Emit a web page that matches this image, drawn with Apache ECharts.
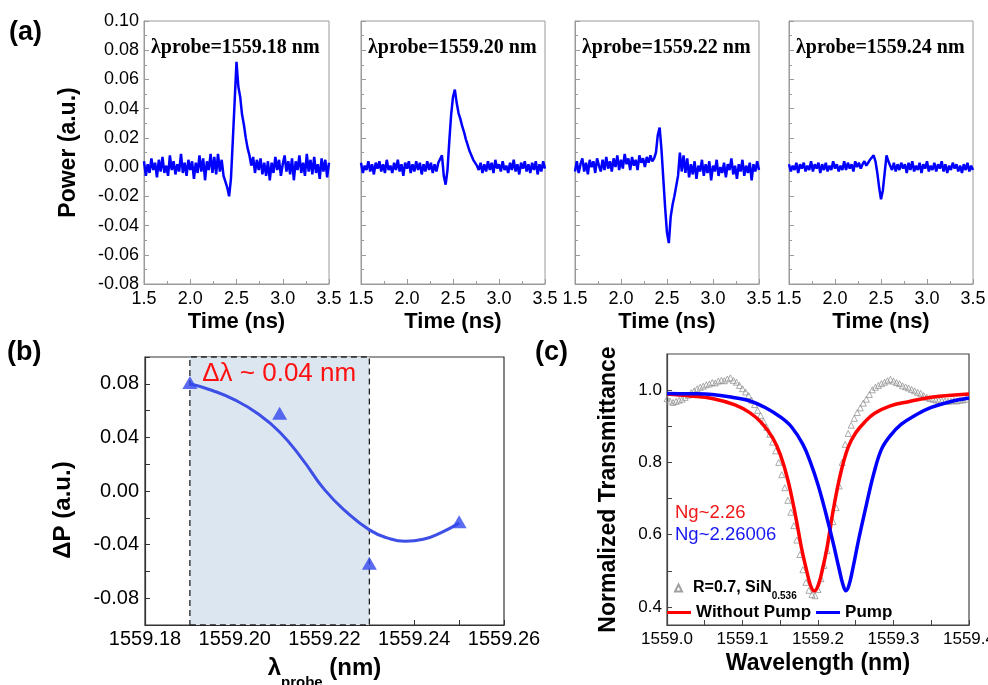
<!DOCTYPE html>
<html><head><meta charset="utf-8">
<script src="https://cdn.jsdelivr.net/npm/echarts@6/dist/echarts.min.js"></script>
<style>html,body{margin:0;padding:0;background:#fff}#c{width:988px;height:685px}</style>
</head><body><div id="c"></div>
<script>
// ---------- Panel (a) data ----------
const times = [
1.50,1.52,1.54,1.56,1.58,1.60,1.62,1.64,1.66,1.68,
1.70,1.72,1.74,1.76,1.78,1.80,1.82,1.84,1.86,1.88,
1.90,1.92,1.94,1.96,1.98,2.00,2.02,2.04,2.06,2.08,
2.10,2.12,2.14,2.16,2.18,2.20,2.22,2.24,2.26,2.28,
2.30,2.32,2.34,2.36,2.38,2.40,2.42,2.44,2.46,2.48,
2.50,2.52,2.54,2.56,2.58,2.60,2.62,2.64,2.66,2.68,
2.70,2.72,2.74,2.76,2.78,2.80,2.82,2.84,2.86,2.88,
2.90,2.92,2.94,2.96,2.98,3.00,3.02,3.04,3.06,3.08,
3.10,3.12,3.14,3.16,3.18,3.20,3.22,3.24,3.26,3.28,
3.30,3.32,3.34,3.36,3.38,3.40,3.42,3.44,3.46,3.48,
3.50];
const power1918 = [
0.004,-0.006,0.002,-0.004,0.006,-0.002,0.003,-0.007,0.005,-0.003,
0.007,-0.004,0.001,-0.006,0.008,-0.002,0.004,-0.005,0.002,-0.003,
0.009,-0.004,0.003,-0.006,0.005,-0.002,0.004,-0.008,0.003,-0.004,
0.008,-0.003,0.006,-0.009,0.004,-0.002,0.009,-0.004,0.007,-0.005,
0.009,-0.003,0.005,-0.006,-0.010,-0.014,-0.020,-0.008,0.018,0.045,
0.072,0.055,0.048,0.036,0.029,0.020,0.013,0.008,0.001,0.007,
-0.004,0.005,-0.002,0.006,-0.005,0.003,-0.006,0.004,-0.009,0.003,
-0.004,0.007,-0.002,0.005,-0.006,0.002,0.008,-0.003,0.004,-0.005,
0.006,-0.009,0.004,-0.002,0.008,-0.004,0.003,-0.006,0.009,-0.003,
0.005,-0.005,0.007,-0.004,0.002,-0.008,0.006,-0.003,0.005,-0.007,
0.003];
const power1920 = [
0.003,-0.004,0.001,-0.002,0.004,-0.003,0.002,-0.005,0.003,-0.001,
0.004,-0.003,0.002,-0.004,0.005,-0.002,0.001,-0.004,0.003,-0.002,
0.005,-0.003,0.002,-0.006,0.003,-0.001,0.004,-0.004,0.002,-0.003,
0.004,-0.002,0.003,-0.005,0.002,-0.003,0.004,-0.002,0.003,-0.004,
0.002,-0.003,0.003,0.004,0.008,-0.006,-0.012,-0.002,0.018,0.036,
0.048,0.053,0.044,0.037,0.033,0.028,0.024,0.019,0.015,0.011,
0.010,0.005,0.004,0.001,-0.002,0.003,-0.004,0.002,-0.003,0.004,
-0.002,0.003,-0.004,0.005,-0.001,0.002,-0.003,0.004,-0.002,0.001,
-0.004,0.003,-0.002,0.005,-0.003,0.002,-0.005,0.003,-0.001,0.004,
-0.003,0.002,-0.004,0.003,-0.002,0.004,-0.005,0.002,-0.003,0.004,
-0.001];
const power1922 = [
-0.003,0.004,-0.004,0.002,0.006,-0.003,0.003,-0.005,0.005,0.000,
0.004,-0.004,0.006,0.001,-0.003,0.005,-0.002,0.007,-0.001,0.004,
-0.003,0.006,0.000,0.008,-0.002,0.005,-0.001,0.009,0.002,0.006,
-0.002,0.007,0.001,0.005,-0.002,0.008,0.003,0.006,0.000,0.007,
0.003,0.008,0.004,0.006,0.010,0.022,0.027,0.012,-0.008,-0.028,
-0.045,-0.052,-0.034,-0.026,-0.020,-0.013,-0.006,0.010,-0.003,0.008,
-0.004,0.006,-0.007,0.002,-0.005,0.004,-0.008,0.001,-0.003,0.005,
-0.006,0.002,-0.004,0.004,-0.009,0.001,-0.003,0.005,-0.006,0.000,
-0.004,0.003,-0.007,0.002,-0.002,0.006,-0.005,0.001,-0.008,0.002,
-0.003,0.005,-0.006,0.001,-0.004,0.003,-0.009,0.002,-0.003,0.004,
-0.002];
const power1924 = [
0.002,-0.003,0.001,-0.002,0.003,-0.004,0.002,-0.001,0.003,-0.003,
0.001,-0.002,0.004,-0.003,0.002,-0.001,0.003,-0.004,0.002,-0.002,
0.003,-0.003,0.001,-0.002,0.004,-0.001,0.002,-0.003,0.001,-0.002,
0.004,-0.002,0.003,-0.001,0.002,-0.003,0.004,0.000,0.003,-0.001,
0.002,0.004,0.001,0.003,0.005,0.006,0.008,0.004,-0.004,-0.014,
-0.022,-0.016,-0.004,0.008,0.004,0.001,-0.002,0.003,-0.003,0.002,
-0.002,0.003,-0.001,0.002,-0.004,0.003,-0.002,0.004,-0.003,0.001,
-0.002,0.003,-0.004,0.002,-0.001,0.004,-0.003,0.001,-0.002,0.003,
-0.003,0.002,-0.001,0.004,-0.003,0.002,-0.004,0.001,-0.002,0.003,
-0.001,0.002,-0.003,0.001,-0.004,0.002,-0.002,0.003,-0.003,0.001,
-0.002];
const probeLabels = ['λprobe=1559.18 nm','λprobe=1559.20 nm','λprobe=1559.22 nm','λprobe=1559.24 nm'];

// ---------- Panel (b) data ----------
const bProbe = [1559.19, 1559.21, 1559.23, 1559.25];
const bDeltaP = [0.081, 0.058, -0.054, -0.023];
const bFitProbe = [1559.190,1559.195,1559.200,1559.205,1559.210,1559.215,1559.220,1559.225,1559.230,1559.234,1559.238,1559.242,1559.246,1559.250];
const bFitP = [0.080,0.075,0.068,0.058,0.044,0.024,0.001,-0.016,-0.029,-0.035,-0.0375,-0.036,-0.031,-0.024];
const bShade = [1559.19, 1559.23];
const bXLabels = [1559.18, 1559.20, 1559.22, 1559.24, 1559.26];
const bXTicks = [1559.18,1559.19,1559.20,1559.21,1559.22,1559.23,1559.24,1559.25,1559.26];
const bYLabels = [-0.08, -0.04, 0, 0.04, 0.08];
const bYTicks = [-0.1,-0.08,-0.06,-0.04,-0.02,0,0.02,0.04,0.06,0.08,0.1];

// ---------- Panel (c) data ----------
const cRedWl = [1559.000,1559.030,1559.060,1559.090,1559.110,1559.125,1559.140,1559.150,1559.160,1559.170,1559.178,1559.185,1559.190,1559.195,1559.200,1559.206,1559.212,1559.220,1559.230,1559.240,1559.250,1559.262,1559.275,1559.295,1559.320,1559.350,1559.400];
const cRedT  = [0.989,0.984,0.977,0.959,0.937,0.910,0.868,0.822,0.752,0.655,0.565,0.500,0.460,0.444,0.458,0.505,0.564,0.666,0.770,0.842,0.882,0.912,0.936,0.956,0.968,0.980,0.989];
const cBlueWl = [1559.000,1559.030,1559.060,1559.090,1559.110,1559.130,1559.150,1559.165,1559.180,1559.190,1559.200,1559.210,1559.220,1559.228,1559.233,1559.237,1559.241,1559.246,1559.254,1559.264,1559.274,1559.284,1559.295,1559.310,1559.330,1559.350,1559.375,1559.400];
const cBlueT  = [0.991,0.990,0.988,0.979,0.970,0.952,0.926,0.898,0.850,0.800,0.738,0.662,0.578,0.505,0.462,0.445,0.460,0.505,0.588,0.682,0.770,0.836,0.872,0.905,0.932,0.952,0.968,0.978];
const cDataWl = [
1559.000,1559.004,1559.008,1559.012,1559.016,1559.020,1559.024,1559.028,1559.032,1559.036,
1559.040,1559.044,1559.048,1559.052,1559.056,1559.060,1559.064,1559.068,1559.072,1559.076,
1559.080,1559.084,1559.088,1559.092,1559.096,1559.100,1559.104,1559.108,1559.112,1559.116,
1559.120,1559.124,1559.128,1559.132,1559.136,1559.140,1559.144,1559.148,1559.152,1559.156,
1559.160,1559.164,1559.168,1559.172,1559.176,1559.180,1559.184,1559.188,1559.192,1559.196,
1559.200,1559.204,1559.208,1559.212,1559.216,1559.220,1559.224,1559.228,1559.232,1559.236,
1559.240,1559.244,1559.248,1559.252,1559.256,1559.260,1559.264,1559.268,1559.272,1559.276,
1559.280,1559.284,1559.288,1559.292,1559.296,1559.300,1559.304,1559.308,1559.312,1559.316,
1559.320,1559.324,1559.328,1559.332,1559.336,1559.340,1559.344,1559.348,1559.352,1559.356,
1559.360,1559.364,1559.368,1559.372,1559.376,1559.380,1559.384,1559.388,1559.392,1559.396];
const cDataT = [
0.976,0.970,0.966,0.969,0.972,0.975,0.980,0.986,0.993,0.998,
1.004,1.008,1.011,1.015,1.017,1.021,1.020,1.025,1.027,1.026,
1.031,1.034,1.027,1.022,1.013,1.004,0.995,0.985,0.972,0.960,
0.944,0.930,0.913,0.897,0.878,0.856,0.832,0.800,0.766,0.730,
0.695,0.662,0.625,0.585,0.545,0.503,0.468,0.446,0.434,0.431,
0.448,0.478,0.515,0.556,0.597,0.636,0.675,0.735,0.800,0.850,
0.880,0.903,0.922,0.938,0.951,0.964,0.975,0.988,1.001,1.008,
1.013,1.018,1.022,1.026,1.030,1.025,1.021,1.018,1.012,1.009,
1.006,1.002,0.998,0.994,0.991,0.985,0.980,0.977,0.975,0.973,
0.972,0.971,0.970,0.969,0.970,0.971,0.970,0.972,0.973,0.975];
const cXLabels = [1559.0, 1559.1, 1559.2, 1559.3, 1559.4];
const cXTicks = [1559.0,1559.05,1559.1,1559.15,1559.2,1559.25,1559.3,1559.35,1559.4];
const cYLabels = [0.4, 0.6, 0.8, 1.0];
const cYTicks = [0.4,0.5,0.6,0.7,0.8,0.9,1.0];

// ---------- build ----------
const SANS = 'Arial, "Liberation Sans", Helvetica, sans-serif';
const SERIF = '"Times New Roman", "Liberation Serif", serif';
const fix = (v, d) => (Math.abs(v) < 1e-9 ? 0 : v).toFixed(d);
const zip = (xs, ys) => xs.map((x, i) => [x, ys[i]]);

const aTraces = [power1918, power1920, power1922, power1924];
const aLefts = [144, 361, 575, 789];
const aWidths = [185, 184, 184, 184];

const grids = [], xAxes = [], yAxes = [], series = [], graphics = [];
const aFrame = '#9a9a9a';
aTraces.forEach((tr, i) => {
  grids.push({left: aLefts[i], top: 21, width: aWidths[i], height: 263, outerBoundsMode: 'none', containLabel: false,
    show: true, borderColor: aFrame, borderWidth: 1, backgroundColor: 'transparent'});
  xAxes.push({type: 'value', gridIndex: i, min: 1.5, max: 3.5, interval: 0.5,
    axisLine: {onZero: false, lineStyle: {color: aFrame, width: 1}},
    axisTick: {inside: true, length: 5, lineStyle: {color: aFrame}},
    minorTick: {show: true, splitNumber: 2, length: 3, lineStyle: {color: aFrame}},
    splitLine: {show: false},
    axisLabel: {formatter: v => fix(v, 1), fontSize: 18, color: '#000', fontFamily: SANS, margin: 6},
    name: 'Time (ns)', nameLocation: 'middle', nameGap: 27,
    nameTextStyle: {fontSize: 22, fontWeight: 'bold', color: '#000', fontFamily: SANS}});
  yAxes.push({type: 'value', gridIndex: i, min: -0.08, max: 0.1, interval: 0.02,
    axisLine: {onZero: false, lineStyle: {color: aFrame, width: 1}},
    axisTick: {inside: true, length: 5, lineStyle: {color: aFrame}},
    minorTick: {show: true, splitNumber: 2, length: 3, lineStyle: {color: aFrame}},
    splitLine: {show: false},
    axisLabel: {show: i === 0, formatter: v => fix(v, 2), fontSize: 18, color: '#000', fontFamily: SANS, margin: 5},
    name: i === 0 ? 'Power (a.u.)' : '', nameLocation: 'middle', nameGap: 64,
    nameTextStyle: {fontSize: 23, fontWeight: 'bold', color: '#000', fontFamily: SANS}});
  series.push({type: 'line', xAxisIndex: i, yAxisIndex: i, data: zip(times, tr), showSymbol: false,
    lineStyle: {color: '#0000ff', width: 2.5}, z: 3});
  graphics.push({type: 'text', x: aLefts[i] + 7, y: 48,
    style: {text: probeLabels[i], fontSize: 20, fontWeight: 'bold', fontFamily: SERIF, fill: '#000', verticalAlign: 'middle'}});
});

// panel b
grids.push({left: 145, top: 357, width: 359, height: 268, outerBoundsMode: 'none', containLabel: false,
  show: true, borderColor: '#333', borderWidth: 1.2, backgroundColor: 'transparent'});
xAxes.push({type: 'value', gridIndex: 4, min: 1559.18, max: 1559.26,
  axisLine: {onZero: false, lineStyle: {color: '#333', width: 1.2}},
  axisTick: {inside: true, length: 5, customValues: bXTicks, lineStyle: {color: '#333'}},
  splitLine: {show: false},
  axisLabel: {customValues: bXLabels, formatter: v => fix(v, 2), fontSize: 20, color: '#000', fontFamily: SANS, margin: 4},
  name: '{a|λ}{s|probe}{a| (nm)}', nameLocation: 'middle', nameGap: 22,
  nameTextStyle: {rich: {a: {fontSize: 24, fontWeight: 'bold', color: '#000', fontFamily: SANS},
                         s: {fontSize: 15, fontWeight: 'bold', color: '#000', fontFamily: SANS, padding: [28, 0, 0, 0]}}}});
yAxes.push({type: 'value', gridIndex: 4, min: -0.1, max: 0.1,
  axisLine: {onZero: false, lineStyle: {color: '#333', width: 1.2}},
  axisTick: {inside: true, length: 5, customValues: bYTicks, lineStyle: {color: '#333'}},
  splitLine: {show: false},
  axisLabel: {customValues: bYLabels, formatter: v => fix(v, 2), fontSize: 20, color: '#000', fontFamily: SANS, margin: 6},
  name: 'ΔP (a.u.)', nameLocation: 'middle', nameGap: 70,
  nameTextStyle: {fontSize: 24, fontWeight: 'bold', color: '#000', fontFamily: SANS, padding: [0, 38, 0, 0]}});
series.push({type: 'line', xAxisIndex: 4, yAxisIndex: 4, data: zip(bFitProbe, bFitP), smooth: 0.5, showSymbol: false,
  lineStyle: {color: '#3d4fe6', width: 3}, z: 3,
  markArea: {silent: true,
    itemStyle: {color: '#dce6f1', borderColor: '#222', borderWidth: 1.3, borderType: [6, 4]},
    label: {show: true, position: [13, 4], formatter: 'Δλ ~ 0.04 nm', color: '#ff1010', fontSize: 26, fontFamily: SANS},
    data: [[{xAxis: bShade[0], yAxis: -0.1}, {xAxis: bShade[1], yAxis: 0.1}]]}});
series.push({type: 'scatter', xAxisIndex: 4, yAxisIndex: 4, data: zip(bProbe, bDeltaP), symbol: 'triangle', symbolSize: [15, 13],
  itemStyle: {color: '#3347ee'}, z: 4});

// panel c
grids.push({left: 667, top: 354, width: 302, height: 271, outerBoundsMode: 'none', containLabel: false,
  show: true, borderColor: '#444', borderWidth: 1.2, backgroundColor: 'transparent'});
xAxes.push({type: 'value', gridIndex: 5, min: 1559.0, max: 1559.4,
  axisLine: {onZero: false, lineStyle: {color: '#444', width: 1.2}},
  axisTick: {inside: true, length: 5, customValues: cXTicks, lineStyle: {color: '#444'}},
  splitLine: {show: false},
  axisLabel: {customValues: cXLabels, formatter: v => fix(v, 1), fontSize: 17, color: '#000', fontFamily: SANS, margin: 6},
  name: 'Wavelength (nm)', nameLocation: 'middle', nameGap: 27,
  nameTextStyle: {fontSize: 23, fontWeight: 'bold', color: '#000', fontFamily: SANS}});
yAxes.push({type: 'value', gridIndex: 5, min: 0.35, max: 1.1,
  axisLine: {onZero: false, lineStyle: {color: '#444', width: 1.2}},
  axisTick: {inside: true, length: 5, customValues: cYTicks, lineStyle: {color: '#444'}},
  splitLine: {show: false},
  axisLabel: {customValues: cYLabels, formatter: v => fix(v, 1), fontSize: 17, color: '#000', fontFamily: SANS, margin: 5},
  name: 'Normalized Transmittance', nameLocation: 'middle', nameGap: 47,
  nameTextStyle: {fontSize: 23, fontWeight: 'bold', color: '#000', fontFamily: SANS}});
series.push({name: 'R=0.7, SiN', type: 'scatter', xAxisIndex: 5, yAxisIndex: 5, data: zip(cDataWl, cDataT),
  symbol: 'triangle', symbolSize: 6, itemStyle: {color: 'rgba(255,255,255,0)', borderColor: '#8a8a8a', borderWidth: 0.9}, z: 2});
series.push({name: 'Without Pump', type: 'line', xAxisIndex: 5, yAxisIndex: 5, data: zip(cRedWl, cRedT), smooth: 0.4, showSymbol: false,
  lineStyle: {color: '#ff0000', width: 3.5}, itemStyle: {color: '#ff0000'}, z: 3});
series.push({name: 'Pump', type: 'line', xAxisIndex: 5, yAxisIndex: 5, data: zip(cBlueWl, cBlueT), smooth: 0.4, showSymbol: false,
  lineStyle: {color: '#0000ff', width: 3.5}, itemStyle: {color: '#0000ff'}, z: 3});

graphics.push({type: 'text', x: 675, y: 513, style: {text: 'Ng~2.26', fontSize: 18.5, fontFamily: SANS, fill: '#f01818', verticalAlign: 'middle'}});
graphics.push({type: 'text', x: 675, y: 535, style: {text: 'Ng~2.26006', fontSize: 18.5, fontFamily: SANS, fill: '#1818f0', verticalAlign: 'middle'}});
graphics.push({type: 'text', x: 9, y: 33, style: {text: '(a)', fontSize: 27, fontWeight: 'bold', fontFamily: SANS, fill: '#000', verticalAlign: 'middle'}});
graphics.push({type: 'text', x: 7, y: 353, style: {text: '(b)', fontSize: 27, fontWeight: 'bold', fontFamily: SANS, fill: '#000', verticalAlign: 'middle'}});
graphics.push({type: 'text', x: 535, y: 353, style: {text: '(c)', fontSize: 27, fontWeight: 'bold', fontFamily: SANS, fill: '#000', verticalAlign: 'middle'}});

const option = {
  animation: false,
  backgroundColor: '#fff',
  grid: grids, xAxis: xAxes, yAxis: yAxes, series: series,
  legend: [
    {data: ['R=0.7, SiN'], left: 674, top: 580, padding: 0, icon: 'triangle', itemWidth: 7, itemHeight: 7, selectedMode: false,
     formatter: '{a|R=0.7, SiN}{s|0.536}',
     textStyle: {rich: {a: {fontSize: 16, fontWeight: 'bold', color: '#000', fontFamily: SANS, padding: [0, 0, 0, 6]},
                        s: {fontSize: 10, fontWeight: 'bold', color: '#000', fontFamily: SANS, padding: [16, 0, 0, 0]}}}},
    {data: ['Without Pump', 'Pump'], left: 667, top: 604, padding: 0, icon: 'rect', itemWidth: 24, itemHeight: 3, itemGap: 5, selectedMode: false,
     textStyle: {fontSize: 17, fontWeight: 'bold', color: '#000', fontFamily: SANS}}
  ],
  graphic: graphics
};
const chart = echarts.init(document.getElementById('c'), null, {renderer: 'canvas'});
chart.setOption(option);
</script></body></html>
